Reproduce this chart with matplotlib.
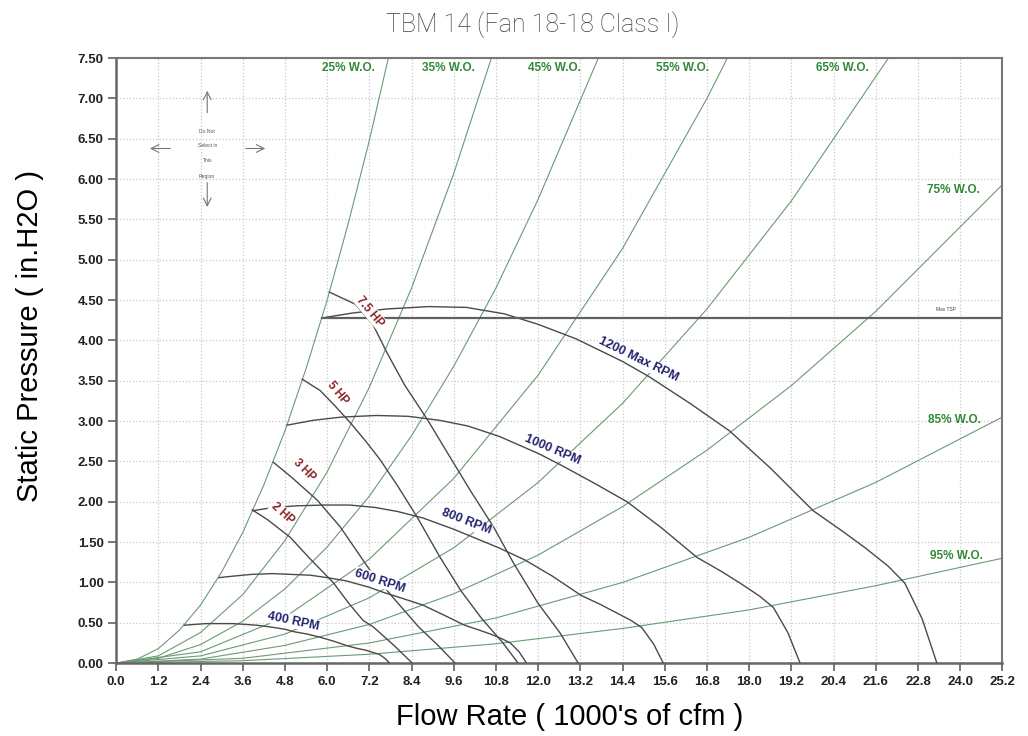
import matplotlib
matplotlib.use("Agg")
import matplotlib.pyplot as plt
import numpy as np

plt.rcParams["font.family"] = ["Liberation Sans", "DejaVu Sans"]

# axis ticks
x_ticks = [round(1.2 * i, 1) for i in range(22)]
y_ticks = [0.5 * i for i in range(16)]

# system curves (% wide open), flow in 1000 cfm vs static pressure
wo_labels = ["25% W.O.", "35% W.O.", "45% W.O.", "55% W.O.", "65% W.O.", "75% W.O.", "85% W.O.", "95% W.O."]
wo25_q = [0, 0.6, 1.2, 1.8, 2.4, 3.0, 3.6, 4.2, 4.8, 5.4, 6.0, 6.6, 7.2, 7.74]
wo25_sp = [0, 0.05, 0.18, 0.41, 0.72, 1.13, 1.62, 2.21, 2.88, 3.65, 4.50, 5.45, 6.48, 7.50]
wo35_q = [0, 1.2, 2.4, 3.6, 4.8, 6.0, 7.2, 8.4, 9.6, 10.67]
wo35_sp = [0, 0.09, 0.38, 0.85, 1.52, 2.37, 3.42, 4.65, 6.07, 7.50]
wo45_q = [0, 1.2, 2.4, 3.6, 4.8, 6.0, 7.2, 8.4, 9.6, 10.8, 12.0, 13.71]
wo45_sp = [0, 0.06, 0.23, 0.52, 0.92, 1.44, 2.07, 2.82, 3.68, 4.65, 5.75, 7.50]
wo55_q = [0, 2.4, 4.8, 7.2, 9.6, 12.0, 14.4, 16.8, 17.38]
wo55_sp = [0, 0.14, 0.57, 1.29, 2.29, 3.57, 5.14, 7.00, 7.50]
wo65_q = [0, 2.4, 4.8, 7.2, 9.6, 12.0, 14.4, 16.8, 19.2, 21.96]
wo65_sp = [0, 0.09, 0.36, 0.81, 1.43, 2.24, 3.22, 4.39, 5.73, 7.50]
wo75_q = [0, 2.4, 4.8, 7.2, 9.6, 12.0, 14.4, 16.8, 19.2, 21.6, 25.2]
wo75_sp = [0, 0.05, 0.22, 0.48, 0.86, 1.34, 1.94, 2.64, 3.44, 4.36, 5.93]
wo85_q = [0, 3.6, 7.2, 10.8, 14.4, 18.0, 21.6, 25.2]
wo85_sp = [0, 0.06, 0.25, 0.56, 1.00, 1.56, 2.24, 3.05]
wo95_q = [0, 3.6, 7.2, 10.8, 14.4, 18.0, 21.6, 25.2]
wo95_sp = [0, 0.03, 0.11, 0.24, 0.43, 0.66, 0.96, 1.30]

# fan curves at constant speed
rpm_labels = ["1200 Max RPM", "1000 RPM", "800 RPM", "600 RPM", "400 RPM"]
rpm1200_q = [5.86, 6.72, 7.68, 8.88, 9.96, 11.04, 12.0, 13.08, 14.4, 15.16, 16.32, 17.44, 18.6, 19.82, 20.64, 21.3, 21.96, 22.43, 22.92, 23.34]
rpm1200_sp = [4.28, 4.34, 4.39, 4.42, 4.41, 4.33, 4.20, 4.02, 3.74, 3.55, 3.22, 2.88, 2.42, 1.89, 1.64, 1.43, 1.20, 0.99, 0.55, 0]
rpm1000_q = [4.86, 5.6, 6.4, 7.4, 8.3, 9.2, 10.0, 10.9, 12.0, 12.63, 13.6, 14.53, 15.5, 16.52, 17.2, 17.75, 18.3, 18.69, 19.1, 19.45]
rpm1000_sp = [2.95, 3.01, 3.05, 3.07, 3.06, 3.01, 2.94, 2.81, 2.60, 2.46, 2.23, 2.00, 1.68, 1.31, 1.14, 0.99, 0.83, 0.69, 0.38, 0]
rpm800_q = [3.89, 4.48, 5.12, 5.92, 6.64, 7.36, 8.0, 8.72, 9.6, 10.1, 10.88, 11.62, 12.4, 13.22, 13.76, 14.2, 14.64, 14.95, 15.28, 15.56]
rpm800_sp = [1.89, 1.93, 1.95, 1.96, 1.96, 1.93, 1.88, 1.80, 1.66, 1.57, 1.43, 1.28, 1.08, 0.84, 0.73, 0.63, 0.53, 0.44, 0.24, 0]
rpm600_q = [2.92, 3.36, 3.84, 4.44, 4.98, 5.52, 6.0, 6.54, 7.2, 7.58, 8.16, 8.72, 9.3, 9.91, 10.32, 10.65, 10.98, 11.21, 11.46, 11.67]
rpm600_sp = [1.06, 1.08, 1.10, 1.11, 1.10, 1.09, 1.06, 1.02, 0.94, 0.88, 0.80, 0.72, 0.60, 0.47, 0.41, 0.36, 0.30, 0.25, 0.14, 0]
rpm400_q = [1.94, 2.24, 2.56, 2.96, 3.32, 3.68, 4.0, 4.36, 4.8, 5.05, 5.44, 5.81, 6.2, 6.61, 6.88, 7.1, 7.32, 7.48, 7.64, 7.78]
rpm400_sp = [0.47, 0.48, 0.49, 0.49, 0.49, 0.48, 0.47, 0.45, 0.42, 0.39, 0.36, 0.32, 0.27, 0.21, 0.18, 0.16, 0.13, 0.11, 0.06, 0]

# brake horsepower curves
hp_labels = ["7.5 HP", "5 HP", "3 HP", "2 HP"]
hp75_q = [6.06, 6.8, 7.3, 7.7, 8.2, 8.85, 9.5, 10.1, 10.73, 11.3, 12.0, 12.63, 13.14]
hp75_sp = [4.60, 4.45, 4.20, 3.85, 3.45, 3.02, 2.55, 2.12, 1.69, 1.24, 0.74, 0.37, 0]
hp5_q = [5.29, 5.8, 6.2, 6.66, 7.1, 7.51, 8.0, 8.56, 9.2, 9.8, 10.4, 11.0, 11.43]
hp5_sp = [3.52, 3.38, 3.20, 2.98, 2.75, 2.52, 2.20, 1.81, 1.32, 0.90, 0.55, 0.25, 0]
hp3_q = [4.47, 5.0, 5.72, 6.37, 7.22, 7.9, 8.6, 9.2, 9.64]
hp3_sp = [2.49, 2.30, 2.02, 1.69, 1.15, 0.80, 0.45, 0.20, 0]
hp2_q = [3.87, 4.3, 4.95, 5.5, 6.17, 6.6, 7.02, 7.31, 7.9, 8.42]
hp2_sp = [1.90, 1.78, 1.56, 1.30, 1.00, 0.75, 0.53, 0.45, 0.22, 0]

max_tsp = 4.28

fig = plt.figure(figsize=(10.28, 7.36), dpi=100)
ax = fig.add_axes([0.113, 0.099, 0.862, 0.822])

wo_curves = [(wo25_q, wo25_sp), (wo35_q, wo35_sp), (wo45_q, wo45_sp), (wo55_q, wo55_sp),
             (wo65_q, wo65_sp), (wo75_q, wo75_sp), (wo85_q, wo85_sp), (wo95_q, wo95_sp)]
for q, sp in wo_curves:
    ax.plot(q, sp, color="#6b9a72", lw=0.8, zorder=2)

rpm_curves = [(rpm1200_q, rpm1200_sp), (rpm1000_q, rpm1000_sp), (rpm800_q, rpm800_sp),
              (rpm600_q, rpm600_sp), (rpm400_q, rpm400_sp)]
for q, sp in rpm_curves:
    ax.plot(q, sp, color="#4a4a4a", lw=1.0, zorder=3)

hp_curves = [(hp75_q, hp75_sp), (hp5_q, hp5_sp), (hp3_q, hp3_sp), (hp2_q, hp2_sp)]
for q, sp in hp_curves:
    ax.plot(q, sp, color="#4a4a4a", lw=1.0, zorder=3)

# max total static pressure line
ax.plot([rpm1200_q[0], 25.2], [max_tsp, max_tsp], color="#606060", lw=1.6, zorder=3)
ax.text(23.6, max_tsp + 0.1, "Max TSP", fontsize=3.5, color="#444444", ha="center", va="center")

box = dict(facecolor="white", edgecolor="none", pad=0.6)

# W.O. labels
wo_pos = [(6.6, 7.38), (9.45, 7.38), (12.45, 7.38), (16.1, 7.38), (20.65, 7.38),
          (23.8, 5.86), (23.85, 3.01), (23.9, 1.33)]
for lab, (x, y) in zip(wo_labels, wo_pos):
    ax.text(x, y, lab, fontsize=8.5, fontweight="bold", color="#2f8a35",
            ha="center", va="center", zorder=5)

# RPM labels
rpm_pos = [(14.85, 3.76, -26), (12.4, 2.64, -23), (9.95, 1.75, -21), (7.51, 1.02, -18), (5.03, 0.52, -12)]
for lab, (x, y, r) in zip(rpm_labels, rpm_pos):
    ax.text(x, y, lab, fontsize=9, fontweight="bold", color="#23236e", rotation=r,
            rotation_mode="anchor", ha="center", va="center", bbox=box, zorder=5)

# HP labels
hp_pos = [(7.22, 4.36, -50), (6.31, 3.35, -50), (5.35, 2.39, -45), (4.72, 1.86, -42)]
for lab, (x, y, r) in zip(hp_labels, hp_pos):
    ax.text(x, y, lab, fontsize=8.5, fontweight="bold", color="#8a1f24", rotation=r,
            rotation_mode="anchor", ha="center", va="center", bbox=box, zorder=5)

# "do not select" marker in the corner
arr = dict(arrowstyle="->", color="#777777", lw=0.8, mutation_scale=14)
ax.annotate("", xy=(2.59, 7.13), xytext=(2.59, 6.79), arrowprops=arr)
ax.annotate("", xy=(2.59, 5.62), xytext=(2.59, 5.99), arrowprops=arr)
ax.annotate("", xy=(0.88, 6.38), xytext=(1.62, 6.38), arrowprops=arr)
ax.annotate("", xy=(4.32, 6.38), xytext=(3.61, 6.38), arrowprops=arr)
for txt, y in zip(["Do Not", "Select in", "This", "Region"], [6.59, 6.42, 6.23, 6.03]):
    ax.text(2.59, y, txt, fontsize=3.6, color="#555555", ha="center", va="center")

ax.set_xlim(0, 25.2)
ax.set_ylim(0, 7.5)
ax.set_xticks(x_ticks)
ax.set_yticks(y_ticks)
ax.set_xticklabels(["%.1f" % v for v in x_ticks])
ax.set_yticklabels(["%.2f" % v for v in y_ticks])
ax.tick_params(labelsize=9.5, colors="#222222", length=6, width=1.4, pad=3)
for lab in ax.get_xticklabels() + ax.get_yticklabels():
    lab.set_fontweight("bold")
ax.tick_params(axis="both", color="#777777")
ax.grid(True, linestyle=":", color="#c8c8c8", lw=0.9)
ax.set_axisbelow(True)
for side in ["left", "bottom"]:
    ax.spines[side].set_color("#666666")
    ax.spines[side].set_linewidth(1.8)
for side in ["top", "right"]:
    ax.spines[side].set_color("#777777")
    ax.spines[side].set_linewidth(1.5)

ax.set_xlabel("Flow Rate ( 1000's of cfm )", fontsize=21)
ax.xaxis.set_label_coords(0.512, -0.066)
ax.set_ylabel("Static Pressure ( in.H2O )", fontsize=21)
ax.yaxis.set_label_coords(-0.081, 0.54)
fig.text(0.518, 0.966, "TBM 14 (Fan 18-18 Class I)", fontsize=18, color="#3f3f3f",
         family=["Roboto", "DejaVu Sans"], fontweight="light", ha="center", va="center")

plt.savefig("out.png", dpi=100)
